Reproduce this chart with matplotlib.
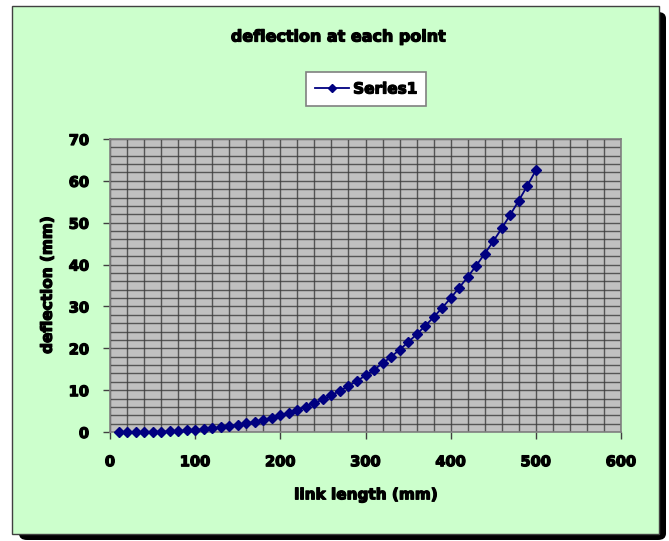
import matplotlib
matplotlib.use("Agg")
import matplotlib.pyplot as plt
import matplotlib.patches as mpatches
import matplotlib.patheffects as pe
import numpy as np

plt.rcParams['font.family'] = ['DejaVu Sans']

link_length = [10, 20, 30, 40, 50, 60, 70, 80, 90, 100,
               110, 120, 130, 140, 150, 160, 170, 180, 190, 200,
               210, 220, 230, 240, 250, 260, 270, 280, 290, 300,
               310, 320, 330, 340, 350, 360, 370, 380, 390, 400,
               410, 420, 430, 440, 450, 460, 470, 480, 490, 500]
deflection = [0.0005, 0.004, 0.0135, 0.032, 0.0625, 0.108, 0.17, 0.26, 0.36, 0.5,
              0.67, 0.86, 1.10, 1.37, 1.69, 2.05, 2.46, 2.92, 3.43, 4.0,
              4.63, 5.32, 6.08, 6.91, 7.81, 8.79, 9.84, 10.98, 12.19, 13.5,
              14.9, 16.38, 17.97, 19.65, 21.44, 23.33, 25.33, 27.44, 29.66, 32.0,
              34.46, 37.04, 39.75, 42.59, 45.56, 48.67, 51.91, 55.3, 58.82, 62.5]
x_ticks = [0, 100, 200, 300, 400, 500, 600]
y_ticks = [0, 10, 20, 30, 40, 50, 60, 70]

W, H = 669, 541
fig = plt.figure(figsize=(W / 100, H / 100), dpi=100)
fig.patch.set_facecolor('white')

def fx(px):
    return px / W

def fy(py):
    return 1 - py / H

thick = [pe.withStroke(linewidth=0.9, foreground='black')]
FS = 11
TFS = 10.5

# shadow
fig.patches.append(mpatches.FancyBboxPatch((fx(19), fy(540)), fx(666) - fx(19), fy(12) - fy(540),
                                           boxstyle='round,pad=0,rounding_size=0.012',
                                           transform=fig.transFigure, facecolor='black',
                                           edgecolor='none', zorder=0))
# green chart area
fig.patches.append(mpatches.Rectangle((fx(12), fy(534)), fx(659) - fx(12), fy(6) - fy(534),
                                      transform=fig.transFigure, facecolor='#CCFFCC',
                                      edgecolor='#404040', linewidth=1.0, zorder=1))

ax = fig.add_axes([fx(110), fy(432), fx(621) - fx(110), fy(139) - fy(432)])
ax.set_facecolor('#C0C0C0')
ax.set_zorder(2)

ax.plot(link_length, deflection, color='#000080', marker='D', markersize=4.6,
        linewidth=1.3, label='Series1', zorder=3, clip_on=False)

ax.set_xlim(0, 600)
ax.set_ylim(0, 70)
ax.set_xticks(x_ticks)
ax.set_yticks(y_ticks)
ax.set_xticks(np.arange(0, 601, 20), minor=True)
ax.set_yticks(np.arange(0, 71, 2), minor=True)
ax.grid(True, which='both', color='#3a3a3a', linewidth=1.0, alpha=0.8)
ax.set_axisbelow(True)
ax.tick_params(which='minor', length=0)
ax.tick_params(axis='x', which='major', direction='out', length=5, width=1, color='#404040',
               labelsize=TFS, pad=11)
ax.tick_params(axis='y', which='major', direction='out', length=5, width=1, color='#404040',
               labelsize=TFS, pad=10)
for lab in ax.get_xticklabels() + ax.get_yticklabels():
    lab.set_fontweight('bold')
    lab.set_path_effects(thick)
for s in ax.spines.values():
    s.set_color('#808080')
    s.set_linewidth(1.2)

xl = ax.set_xlabel('link length (mm)', fontsize=FS, fontweight='bold', labelpad=13)
yl = ax.set_ylabel('deflection (mm)', fontsize=FS, fontweight='bold', labelpad=10)
xl.set_path_effects(thick)
yl.set_path_effects(thick)

t = fig.text(fx(339), fy(37), 'deflection at each point', ha='center', va='center',
             fontsize=FS + 0.5, fontweight='bold')
t.set_path_effects(thick)

leg = fig.legend(loc='center', bbox_to_anchor=(fx(366), fy(89)), frameon=True,
                 fancybox=False, edgecolor='#808080', facecolor='white', framealpha=1,
                 prop={'weight': 'bold', 'size': FS}, handlelength=2.2,
                 borderpad=0.6, handletextpad=0.3, markerscale=0.9)
leg.get_frame().set_linewidth(1.2)
leg.set_zorder(5)
for txt in leg.get_texts():
    txt.set_path_effects(thick)

fig.savefig('out.png', dpi=100, facecolor=fig.get_facecolor())
